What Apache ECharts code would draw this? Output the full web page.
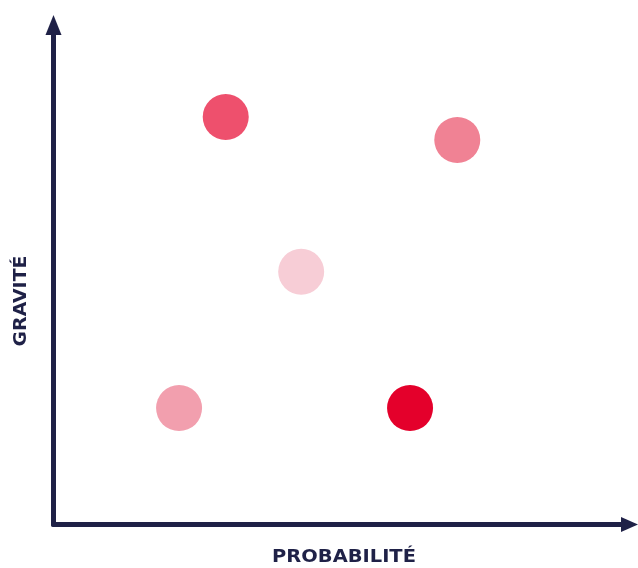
<!DOCTYPE html>
<html><head><meta charset="utf-8">
<script src="https://cdn.jsdelivr.net/npm/echarts@6/dist/echarts.min.js"></script>
<style>html,body{margin:0;padding:0;background:#fff}#c{width:638px;height:568px}</style>
</head><body><div id="c"></div>
<script>
const xName = 'PROBABILITÉ';
const yName = 'GRAVITÉ';
const probability = [29.9, 70.1, 43.0, 21.8, 61.9];
const gravity = [81.6, 77.0, 50.6, 23.3, 23.3];
const colors = ['#ee506d', '#f08294', '#f7cdd6', '#f29fae', '#e4002b'];
const navy = '#1f2147';

const data = probability.map((p, i) => ({ value: [p, gravity[i]], itemStyle: { color: colors[i] } }));
const axisLine = (size) => ({ show: true, onZero: false, lineStyle: { color: navy, width: 5 }, symbol: ['none', 'triangle'], symbolSize: size, symbolOffset: [0, 0] });
const chart = echarts.init(document.getElementById('c'));
chart.setOption({
  animation: false,
  grid: { left: 53.5, right: 8.5, top: 25, bottom: 43.5, outerBoundsMode: 'none', containLabel: false },
  xAxis: {
    type: 'value', min: 0, max: 100,
    axisLine: axisLine([15, 17]),
    axisTick: { show: false }, axisLabel: { show: false }, splitLine: { show: false }
  },
  yAxis: {
    type: 'value', min: 0, max: 100,
    axisLine: axisLine([16, 20]),
    axisTick: { show: false }, axisLabel: { show: false }, splitLine: { show: false }
  },
  graphic: [{
    type: 'text', x: 344, y: 557, scaleX: 1.08,
    style: { text: xName, fill: navy, font: 'bold 18px "DejaVu Sans"', textAlign: 'center', textVerticalAlign: 'middle' }
  }, {
    type: 'text', x: 21, y: 301, rotation: Math.PI / 2, scaleX: 1.05,
    style: { text: yName, fill: navy, font: 'bold 18px "DejaVu Sans"', textAlign: 'center', textVerticalAlign: 'middle' }
  }],
  series: [{ type: 'scatter', symbolSize: 46, itemStyle: { opacity: 1 }, data: data }]
});
</script></body></html>
